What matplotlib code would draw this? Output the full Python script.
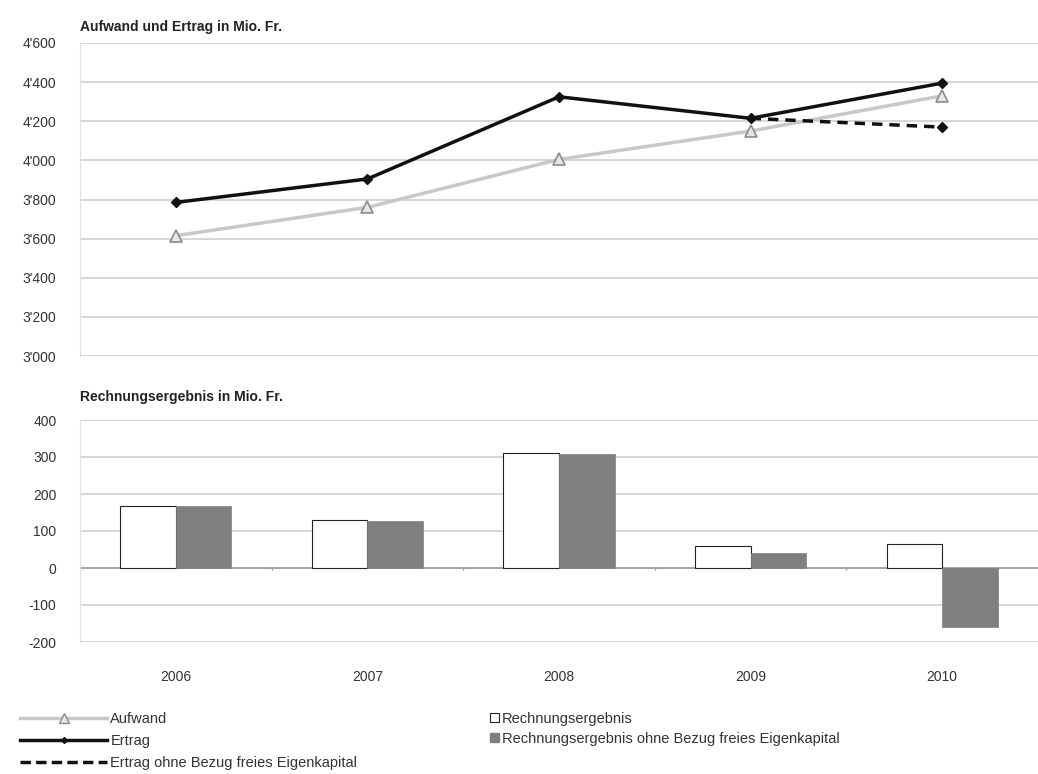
import matplotlib
matplotlib.use("Agg")
import matplotlib.pyplot as plt
from matplotlib.ticker import FuncFormatter
from matplotlib.lines import Line2D
from matplotlib.patches import Patch
import numpy as np

plt.rcParams['font.family'] = ['Liberation Sans', 'DejaVu Sans']
plt.rcParams['axes.unicode_minus'] = False

years = ['2006', '2007', '2008', '2009', '2010']
aufwand = [3615, 3760, 4005, 4150, 4330]
ertrag = [3785, 3905, 4325, 4215, 4395]
ertrag_ohne_years = [3, 4]
ertrag_ohne = [4215, 4170]
ergebnis = [168, 131, 312, 59, 64]
ergebnis_ohne = [168, 128, 307, 40, -160]

grid_c = '#cfcfcf'
text_c = '#333333'

def thousands(v, pos):
    s = f"{int(v):,}".replace(',', "'")
    return s

fig = plt.figure(figsize=(10.38, 7.74), dpi=100)

# upper panel: expenses and revenue
ax1 = fig.add_axes([80/1038, 1 - 356/774, 958/1038, 313/774])
x = np.arange(len(years))
ax1.plot(x, aufwand, color='#c8c8c8', lw=2.5, marker='^', ms=8,
         mfc='#e6e6e6', mec='#8a8a8a', mew=1.2, zorder=3)
ax1.plot(x, ertrag, color='#111111', lw=2.5, marker='D', ms=5,
         mfc='#111111', mec='#111111', zorder=4)
ax1.plot(ertrag_ohne_years, ertrag_ohne, color='#111111', lw=2.5, ls=(0, (3, 2)),
         marker='D', ms=5, markevery=[1], zorder=4)
ax1.set_xlim(-0.5, 4.5)
ax1.set_ylim(3000, 4600)
ax1.set_yticks(np.arange(3000, 4601, 200))
ax1.yaxis.set_major_formatter(FuncFormatter(thousands))
ax1.set_xticks([])
ax1.grid(axis='y', color=grid_c, lw=1.2)
ax1.set_axisbelow(True)
for s in ['top', 'right', 'bottom']:
    ax1.spines[s].set_visible(False)
ax1.spines['left'].set_color('#e0e0e0')
ax1.tick_params(axis='y', length=0, labelsize=10, labelcolor=text_c, pad=17)
fig.text(80/1038, 1 - 27/774, 'Aufwand und Ertrag in Mio. Fr.', fontsize=10,
         fontweight='bold', color='#222222', va='center')

# lower panel: result bars
ax2 = fig.add_axes([80/1038, 1 - 642/774, 958/1038, 222/774])
w = 0.29
ax2.bar(x - w/2, ergebnis, w, color='white', edgecolor='#222222', lw=0.8, zorder=3)
ax2.bar(x + w/2, ergebnis_ohne, w, color='#7f7f7f', edgecolor='#7f7f7f', lw=0.5, zorder=3)
ax2.axhline(0, color='#9a9a9a', lw=1.2, zorder=2)
ax2.vlines(np.arange(0.5, 4.5, 1), -6, 0, color='#9a9a9a', lw=1)
ax2.set_xlim(-0.5, 4.5)
ax2.set_ylim(-200, 400)
ax2.set_yticks(np.arange(-200, 401, 100))
ax2.set_xticks(x)
ax2.set_xticklabels(years)
ax2.grid(axis='y', color=grid_c, lw=1.2)
ax2.set_axisbelow(True)
for s in ['top', 'right', 'bottom']:
    ax2.spines[s].set_visible(False)
ax2.spines['left'].set_color('#e0e0e0')
ax2.tick_params(axis='y', length=0, labelsize=10, labelcolor=text_c, pad=17)
ax2.tick_params(axis='x', length=0, labelsize=10, labelcolor=text_c, pad=20)
fig.text(80/1038, 1 - 397/774, 'Rechnungsergebnis in Mio. Fr.', fontsize=10,
         fontweight='bold', color='#222222', va='center')

# legends
h_left = [
    Line2D([], [], color='#c8c8c8', lw=2.5, marker='^', ms=7, mfc='#e6e6e6',
           mec='#8a8a8a', markevery=[1]),
    Line2D([], [], color='#111111', lw=2.5, marker='D', ms=3, markevery=[1]),
    Line2D([], [], color='#111111', lw=2.5, ls=(0, (3, 1.5))),
]
leg1 = fig.legend(h_left, ['Aufwand', 'Ertrag', 'Ertrag ohne Bezug freies Eigenkapital'],
                  loc='upper left', bbox_to_anchor=(14/1038, 1 - 706/774), frameon=False,
                  fontsize=10.5, handlelength=6.0, handletextpad=0.2, labelspacing=0.55,
                  borderaxespad=0)
for t in leg1.get_texts():
    t.set_color(text_c)
h_right = [
    Patch(facecolor='white', edgecolor='#222222', lw=0.8),
    Patch(facecolor='#7f7f7f', edgecolor='#7f7f7f'),
]
leg2 = fig.legend(h_right, ['Rechnungsergebnis', 'Rechnungsergebnis ohne Bezug freies Eigenkapital'],
                  loc='upper left', bbox_to_anchor=(484/1038, 1 - 706/774), frameon=False,
                  fontsize=10.5, handlelength=0.6, handleheight=0.6, handletextpad=0.2,
                  labelspacing=0.4, borderaxespad=0)
for t in leg2.get_texts():
    t.set_color(text_c)

fig.savefig('out.png', dpi=100, facecolor='white')
